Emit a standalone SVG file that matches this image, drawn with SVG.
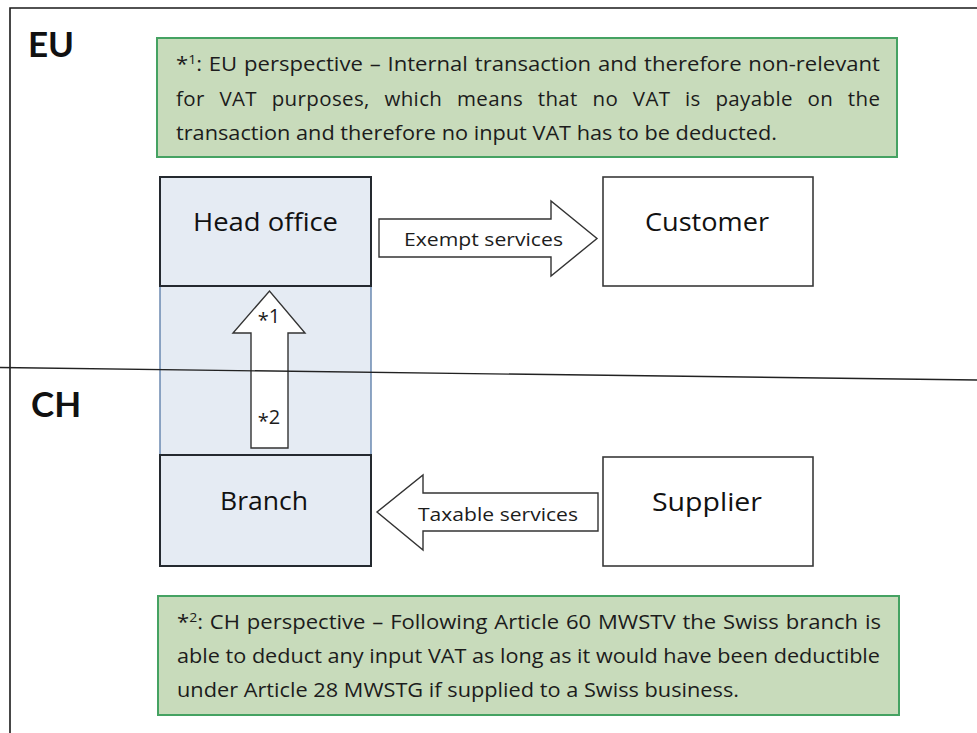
<svg xmlns="http://www.w3.org/2000/svg" width="977" height="733" viewBox="0 0 977 733">
  <style>
    .frame { stroke: #1a1a1a; stroke-width: 1.6; fill: none; }
    .region { font-family: Lato, "Liberation Sans", sans-serif; font-weight: bold; font-size: 35px; fill: #111; }
    .note-box { fill: #c8dbbb; stroke: #45a262; stroke-width: 2; }
    .note { font-family: "Open Sans", "Liberation Sans", sans-serif; font-size: 20.5px; fill: #1c1c1c; }
    .entity { fill: #e5ebf3; }
    .entity-edge { fill: none; stroke: #24292f; stroke-width: 2; }
    .entity-outline { fill: none; stroke: #6282ab; stroke-width: 1.4; }
    .party { fill: #ffffff; stroke: #3a3a3a; stroke-width: 1.6; }
    .label { font-family: "Open Sans", "Liberation Sans", sans-serif; font-size: 26px; fill: #111; text-anchor: middle; }
    .flow { fill: #ffffff; stroke: #333; stroke-width: 1.4; stroke-linejoin: miter; }
    .flow-text { font-family: "Open Sans", "Liberation Sans", sans-serif; font-size: 18.5px; fill: #1c1c1c; text-anchor: middle; }
    .mark { font-family: "Open Sans", "Liberation Sans", sans-serif; font-size: 20px; fill: #1c1c1c; text-anchor: middle; }
    .border { stroke: #222; stroke-width: 1.3; fill: none; }
  </style>

  <!-- page frame -->
  <path class="frame" d="M10 733 V8 H977"/>

  <!-- region labels -->
  <g id="label-eu"><text class="region" x="28" y="57">EU</text></g>
  <g id="label-ch"><text class="region" x="31" y="417">CH</text></g>

  <!-- note 1 (justified lines use word spacing, then fit) -->
  <g id="note-eu">
    <rect class="note-box" x="157" y="38" width="740" height="119"/>
    <text class="note" x="176" y="71" word-spacing="1" textLength="704" lengthAdjust="spacingAndGlyphs">*<tspan font-size="13" dy="-7">1</tspan><tspan dy="7">: EU perspective – Internal transaction and therefore non-relevant</tspan></text>
    <text class="note" x="176" y="106" word-spacing="9" textLength="704" lengthAdjust="spacing">for VAT purposes, which means that no VAT is payable on the</text>
    <text class="note" x="176" y="140" textLength="601" lengthAdjust="spacingAndGlyphs">transaction and therefore no input VAT has to be deducted.</text>
  </g>

  <!-- head office / branch entity -->
  <g id="entity">
    <rect class="entity" x="160" y="177" width="211" height="389"/>
    <rect class="entity-outline" x="160" y="177" width="211" height="389"/>
  </g>
  <g id="head-office">
    <rect class="entity-edge" x="160" y="177" width="211" height="109"/>
    <text class="label" x="265.5" y="231" textLength="145" lengthAdjust="spacingAndGlyphs">Head office</text>
  </g>
  <g id="branch">
    <rect class="entity-edge" x="160" y="455" width="211" height="111"/>
    <text class="label" x="264" y="510" textLength="88" lengthAdjust="spacingAndGlyphs">Branch</text>
  </g>

  <g id="customer">
    <rect class="party" x="603" y="177" width="210" height="109"/>
    <text class="label" x="707" y="231" textLength="124" lengthAdjust="spacingAndGlyphs">Customer</text>
  </g>
  <g id="supplier">
    <rect class="party" x="603" y="457" width="210" height="109"/>
    <text class="label" x="707" y="511" textLength="110" lengthAdjust="spacingAndGlyphs">Supplier</text>
  </g>

  <!-- flows -->
  <g id="connectors">
    <g id="flow-internal">
      <polygon class="flow" points="251,448 288,448 288,333 305,333 269.5,291 233,333 251,333"/>
      <text class="mark" x="269" y="327">*<tspan dy="-4">1</tspan></text>
      <text class="mark" x="269" y="428">*<tspan dy="-4">2</tspan></text>
    </g>
    <g id="flow-exempt">
      <polygon class="flow" points="379,219 551,219 551,201 597,238.5 551,276 551,257 379,257"/>
      <text class="flow-text" x="483.5" y="246" textLength="159" lengthAdjust="spacingAndGlyphs">Exempt services</text>
    </g>
    <g id="flow-taxable">
      <polygon class="flow" points="598,493 423,493 423,475 377,512 423,550 423,531 598,531"/>
      <text class="flow-text" x="498" y="521" textLength="160" lengthAdjust="spacingAndGlyphs">Taxable services</text>
    </g>
  </g>

  <!-- jurisdiction border between EU and CH, drawn over the entity -->
  <line class="border" x1="0" y1="367.5" x2="977" y2="380"/>

  <!-- note 2 -->
  <g id="note-ch">
    <rect class="note-box" x="158" y="596" width="741" height="119"/>
    <text class="note" x="177" y="629" word-spacing="1" textLength="704" lengthAdjust="spacingAndGlyphs">*<tspan font-size="13" dy="-7">2</tspan><tspan dy="7">: CH perspective – Following Article 60 MWSTV the Swiss branch is</tspan></text>
    <text class="note" x="177" y="663" textLength="703" lengthAdjust="spacingAndGlyphs">able to deduct any input VAT as long as it would have been deductible</text>
    <text class="note" x="177" y="697" textLength="562" lengthAdjust="spacingAndGlyphs">under Article 28 MWSTG if supplied to a Swiss business.</text>
  </g>
</svg>
